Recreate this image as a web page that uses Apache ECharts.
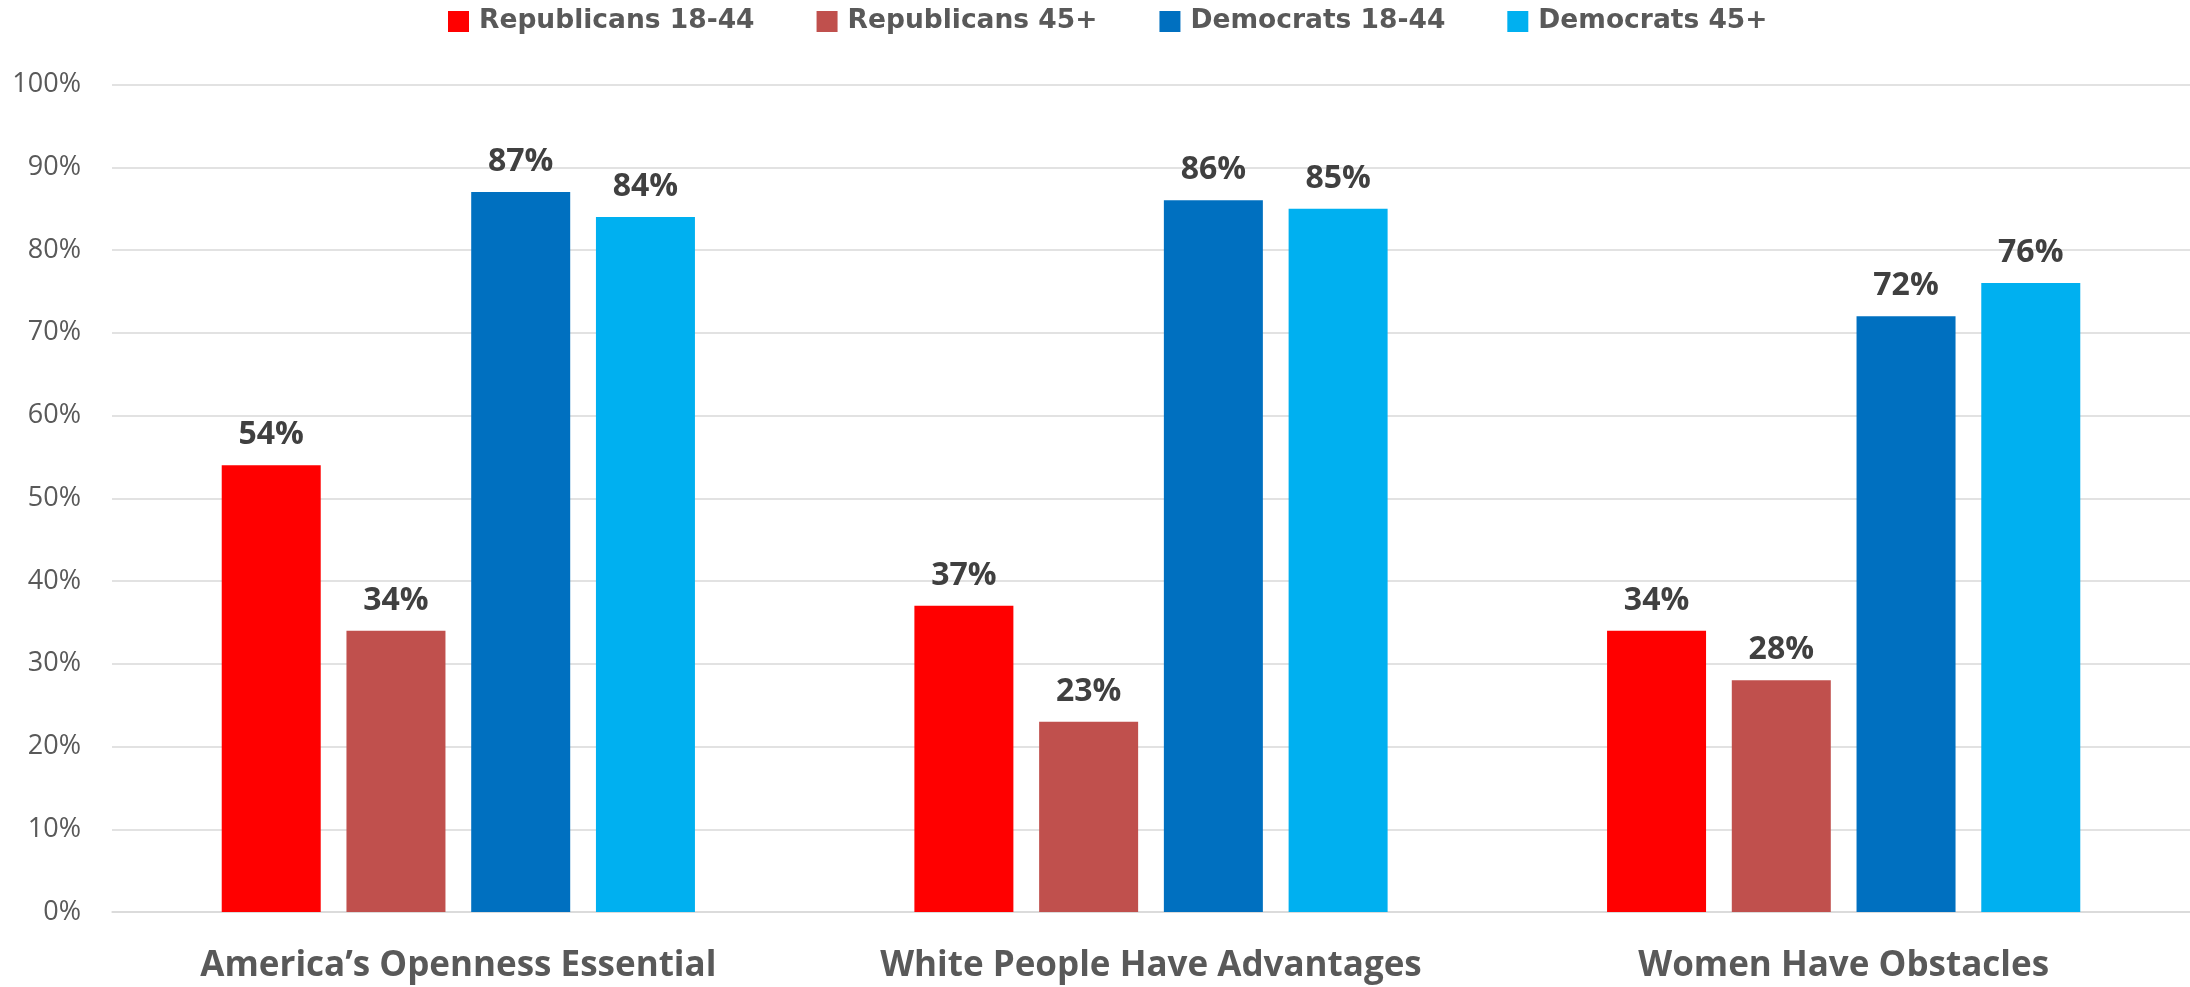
<!DOCTYPE html>
<html>
<head>
<meta charset="utf-8">
<script src="https://cdn.jsdelivr.net/npm/echarts@6/dist/echarts.min.js"></script>
<style>
html,body{margin:0;padding:0;background:#fff;}
#chart{width:2190px;height:987px;}
</style>
</head>
<body>
<div id="chart"></div>
<script>
const categories = ["America\u2019s Openness Essential", "White People Have Advantages", "Women Have Obstacles"];
const seriesNames = ["Republicans 18-44", "Republicans 45+", "Democrats 18-44", "Democrats 45+"];
const rep1844 = [54, 37, 34];
const rep45 = [34, 23, 28];
const dem1844 = [87, 86, 72];
const dem45 = [84, 85, 76];
const yTicks = [0, 10, 20, 30, 40, 50, 60, 70, 80, 90, 100];

const colors = ["#FF0000", "#C0504D", "#0070C0", "#00B0F0"];
const values = [rep1844, rep45, dem1844, dem45];
const FONT = "Open Sans";

const chart = echarts.init(document.getElementById('chart'), null, {renderer: 'canvas'});
chart.setOption({
  animation: false,
  backgroundColor: '#ffffff',
  textStyle: {fontFamily: FONT},
  legend: {
    data: seriesNames,
    top: 3,
    left: 443,
    padding: 5,
    itemWidth: 21,
    itemHeight: 21,
    itemGap: 62,
    icon: 'rect',
    textStyle: {fontFamily: 'DejaVu Sans', fontSize: 26.5, fontWeight: 'bold', color: '#595959', padding: [0, 0, 0, 5]}
  },
  grid: {left: 112, right: 0, top: 84.5, bottom: 75, containLabel: false},
  xAxis: {
    type: 'category',
    data: categories,
    axisLine: {show: true, lineStyle: {color: '#D9D9D9', width: 1.5}},
    axisTick: {show: false},
    axisLabel: {interval: 0, hideOverlap: false, fontFamily: FONT, fontSize: 35, fontWeight: 'bold', color: '#595959', margin: 37}
  },
  yAxis: {
    type: 'value',
    min: yTicks[0],
    max: yTicks[yTicks.length - 1],
    interval: yTicks[1] - yTicks[0],
    axisLine: {show: false},
    axisTick: {show: false},
    splitLine: {lineStyle: {color: '#D9D9D9', width: 1.5}},
    axisLabel: {fontFamily: FONT, fontSize: 27, color: '#595959', margin: 31, formatter: '{value}%'}
  },
  series: seriesNames.map((name, i) => ({
    name: name,
    type: 'bar',
    data: values[i],
    barWidth: 99,
    barGap: '26%',
    itemStyle: {color: colors[i]},
    label: {
      show: true,
      position: 'top',
      distance: 14,
      formatter: '{c}%',
      fontFamily: FONT,
      fontSize: 32,
      fontWeight: 'bold',
      color: '#404040'
    }
  }))
});
</script>
</body>
</html>
